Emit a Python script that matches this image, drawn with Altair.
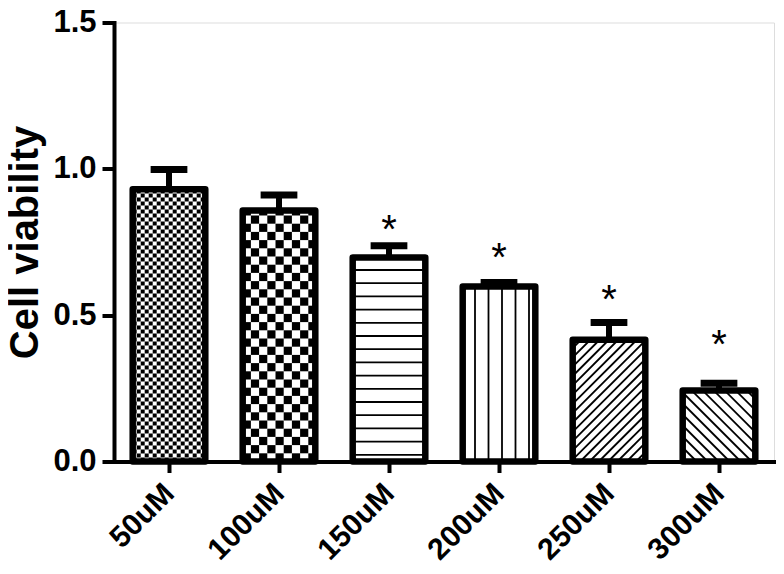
import json
import math
import pandas as pd
import altair as alt

# ---- data ----
categories = ["50uM", "100uM", "150uM", "200uM", "250uM", "300uM"]
means = [0.930, 0.858, 0.697, 0.598, 0.416, 0.243]
errors = [0.068, 0.053, 0.040, 0.014, 0.059, 0.024]
stars = ["", "", "*", "*", "*", "*"]
star_y = [None, None, 0.825, 0.730, 0.586, 0.433]
patterns = ["checker_fine", "checker_coarse", "hlines", "vlines", "diag_up", "diag_down"]
y_ticks = [0.0, 0.5, 1.0, 1.5]

# ---- geometry ----
W, H = 660, 439
YMAX = 1.5
N = len(categories)
PXX = W / N
PXY = H / YMAX
HALF = 0.33
CAPHALF = 0.167

rows = []
for i, (c, m, e) in enumerate(zip(categories, means, errors)):
    xc = i + 0.5
    rows.append({"cat": c, "xc": xc, "x0": xc - HALF, "x1": xc + HALF,
                 "c0": xc - CAPHALF, "c1": xc + CAPHALF,
                 "mean": m, "top": m + e, "zero": 0.0})
bars = pd.DataFrame(rows)

star_df = pd.DataFrame([{"xc": i + 0.5, "sy": sy, "s": s}
                        for i, (s, sy) in enumerate(zip(stars, star_y)) if s])

# ---- fill patterns (decoration computed from the bars) ----
cells, segs = [], []
for i, (m, p) in enumerate(zip(means, patterns)):
    xl = (i + 0.5 - HALF) * PXX
    xr = (i + 0.5 + HALF) * PXX
    w = xr - xl
    yt = m * PXY
    if p.startswith("checker"):
        s = 4.0 if p == "checker_fine" else 8.2
        nx = math.ceil(w / s)
        ny = math.ceil(yt / s)
        for r in range(ny):
            for c in range(nx):
                if (r + c) % 2 == 0:
                    cells.append({"a": (xl + c * s) / PXX,
                                  "b": min(xl + (c + 1) * s, xr) / PXX,
                                  "u": (r * s) / PXY,
                                  "v": min((r + 1) * s, yt) / PXY})
    elif p == "hlines":
        y = 6.7
        while y < yt - 4:
            segs.append({"a": xl / PXX, "b": xr / PXX, "u": y / PXY, "v": y / PXY})
            y += 13.2
    elif p == "vlines":
        x = xl + 12.3
        while x < xr - 4:
            segs.append({"a": x / PXX, "b": x / PXX, "u": 0.0, "v": yt / PXY})
            x += 13.5
    elif p == "diag_up":
        h = 9.3
        c = -w
        while c < yt:
            s0 = max(0.0, -c)
            s1 = min(w, yt - c)
            if s1 > s0:
                segs.append({"a": (xl + s0) / PXX, "b": (xl + s1) / PXX,
                             "u": (s0 + c) / PXY, "v": (s1 + c) / PXY})
            c += h
    elif p == "diag_down":
        h = 11.0
        c = 3.0
        while c < w + yt:
            s0 = max(0.0, c - yt)
            s1 = min(w, c)
            if s1 > s0:
                segs.append({"a": (xl + s0) / PXX, "b": (xl + s1) / PXX,
                             "u": (c - s0) / PXY, "v": (c - s1) / PXY})
            c += h
cells_df = pd.DataFrame(cells)
segs_df = pd.DataFrame(segs)

# ---- scales & axes ----
FONT = "Liberation Sans"
xs = alt.Scale(domain=[0, N], nice=False, zero=False)
ys = alt.Scale(domain=[0, YMAX], nice=False)
label_expr = json.dumps(categories) + "[floor(datum.value)]"
xaxis = alt.Axis(values=[i + 0.5 for i in range(N)], labelExpr=label_expr,
                 labelAngle=315, labelAlign="right", labelBaseline="middle",
                 labelFont=FONT, labelFontWeight="bold", labelFontSize=30,
                 labelColor="black", labelPadding=16, tickSize=11, tickWidth=4,
                 tickColor="black", domainWidth=4, domainColor="black",
                 domainCap="square", grid=False, title=None)
yaxis = alt.Axis(values=y_ticks, format=".1f", labelFont=FONT,
                 labelFontWeight="bold", labelFontSize=31, labelColor="black",
                 labelPadding=6, tickSize=12, tickWidth=4, tickColor="black",
                 domainWidth=4, domainColor="black", domainCap="square",
                 grid=False, title="Cell viability", titleFont=FONT,
                 titleFontWeight="bold", titleFontSize=40, titleColor="black",
                 titlePadding=7)


def X(f):
    return alt.X(f, type="quantitative", scale=xs, axis=xaxis)


def Y(f):
    return alt.Y(f, type="quantitative", scale=ys, axis=yaxis)


cell_layer = alt.Chart(cells_df).mark_rect(color="black", strokeWidth=0).encode(
    x=X("a"), x2="b", y=Y("u"), y2="v")
seg_layer = alt.Chart(segs_df).mark_rule(color="black", strokeWidth=1.8).encode(
    x=X("a"), x2="b", y=Y("u"), y2="v")
outline = alt.Chart(bars).mark_rect(fillOpacity=0, stroke="black", strokeWidth=6.5,
                                    strokeJoin="round").encode(
    x=X("x0"), x2="x1", y=Y("zero"), y2="mean")
stem = alt.Chart(bars).mark_rule(color="black", strokeWidth=6).encode(
    x=X("xc"), y=Y("mean"), y2="top")
cap = alt.Chart(bars).mark_rule(color="black", strokeWidth=7).encode(
    x=X("c0"), x2="c1", y=Y("top"))
star_layer = alt.Chart(star_df).mark_text(font=FONT, fontSize=40, color="black",
                                          baseline="alphabetic", dy=23).encode(
    x=X("xc"), y=Y("sy"), text="s:N")

chart = alt.layer(cell_layer, seg_layer, outline, stem, cap, star_layer).properties(
    width=W, height=H,
    autosize=alt.AutoSizeParams(type="none"),
    padding={"left": 106, "top": 14.5, "right": 2, "bottom": 104},
).configure_view(stroke=None).configure(background="white")

chart.save("out.html", embed_options={"renderer": "svg", "actions": False})
